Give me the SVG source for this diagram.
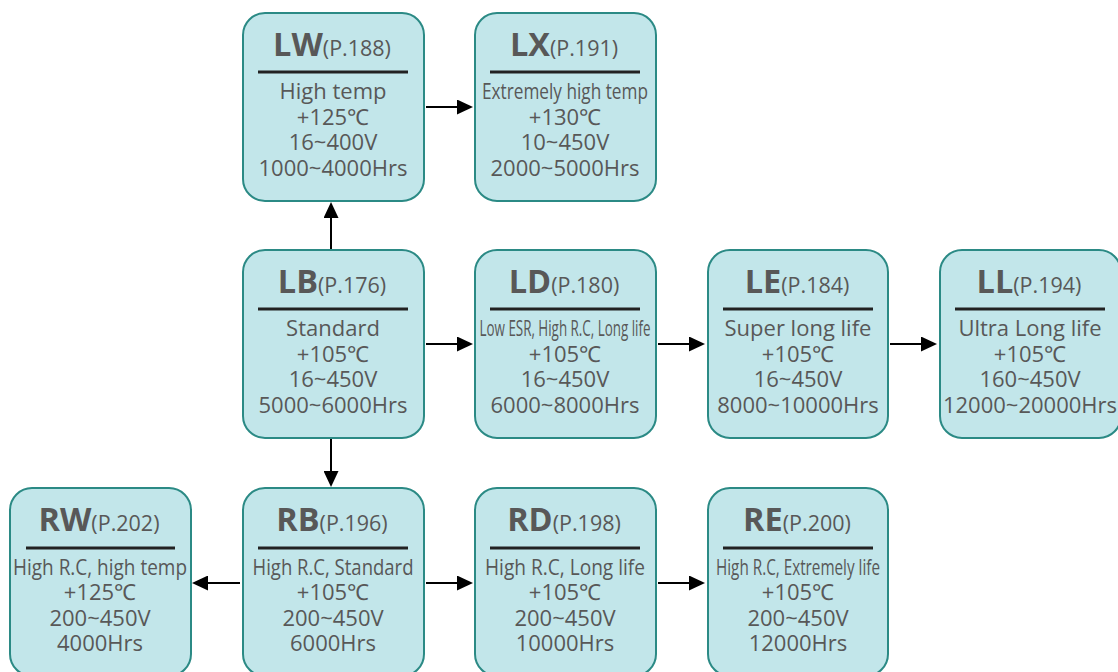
<svg xmlns="http://www.w3.org/2000/svg" width="1118" height="672" viewBox="0 0 1118 672">
<defs>
<style>
.box{fill:#c2e6ea;stroke:#2b8a85;stroke-width:2}
.t{font-family:"Open Sans","Liberation Sans",sans-serif;fill:#585858;text-anchor:middle}
.big{font-size:32.5px;font-weight:bold}
.sm{font-size:21.5px}
.ln{font-size:22px}
.cd{font-size:21px}
.ul{stroke:#222;stroke-width:3}
.cn{stroke:#000;stroke-width:2;fill:none;marker-end:url(#ah)}
</style>
<marker id="ah" markerWidth="16" markerHeight="15" refX="10" refY="7.5" orient="auto" markerUnits="userSpaceOnUse"><path d="M0,0 L16,7.5 L0,15 z" fill="#000"/></marker>
</defs>
<rect width="1118" height="672" fill="#fff"/>
<g id="connectors">
<line class="cn" x1="426" y1="107" x2="467" y2="107"/>
<line class="cn" x1="331" y1="250" x2="331" y2="208"/>
<line class="cn" x1="426" y1="344" x2="467" y2="344"/>
<line class="cn" x1="658" y1="344" x2="699" y2="344"/>
<line class="cn" x1="890" y1="344" x2="931" y2="344"/>
<line class="cn" x1="331" y1="439" x2="331" y2="481"/>
<line class="cn" x1="240" y1="583" x2="198" y2="583"/>
<line class="cn" x1="426" y1="583" x2="467" y2="583"/>
<line class="cn" x1="658" y1="583" x2="699" y2="583"/>
</g>
<g id="LW">
<rect class="box" x="243" y="13" width="181" height="188" rx="22"/>
<text class="t" x="332" y="56"><tspan class="big">LW</tspan><tspan class="sm">(P.188)</tspan></text>
<line class="ul" x1="258" y1="72" x2="408" y2="72"/>
<text class="t ln" x="333" y="99">High temp</text>
<text class="t ln" x="333" y="125">+125℃</text>
<text class="t ln" x="333" y="150">16~400V</text>
<text class="t ln" x="333" y="176">1000~4000Hrs</text>
</g>
<g id="LX">
<rect class="box" x="475" y="13" width="181" height="188" rx="22"/>
<text class="t" x="564" y="56"><tspan class="big">LX</tspan><tspan class="sm">(P.191)</tspan></text>
<line class="ul" x1="490" y1="72" x2="640" y2="72"/>
<text class="t cd" x="565" y="99" textLength="166" lengthAdjust="spacingAndGlyphs">Extremely high temp</text>
<text class="t ln" x="565" y="125">+130℃</text>
<text class="t ln" x="565" y="150">10~450V</text>
<text class="t ln" x="565" y="176">2000~5000Hrs</text>
</g>
<g id="LB">
<rect class="box" x="243" y="250" width="181" height="188" rx="22"/>
<text class="t" x="332" y="293"><tspan class="big">LB</tspan><tspan class="sm">(P.176)</tspan></text>
<line class="ul" x1="258" y1="309" x2="408" y2="309"/>
<text class="t ln" x="333" y="336">Standard</text>
<text class="t ln" x="333" y="362">+105℃</text>
<text class="t ln" x="333" y="387">16~450V</text>
<text class="t ln" x="333" y="413">5000~6000Hrs</text>
</g>
<g id="LD">
<rect class="box" x="475" y="250" width="181" height="188" rx="22"/>
<text class="t" x="564" y="293"><tspan class="big">LD</tspan><tspan class="sm">(P.180)</tspan></text>
<line class="ul" x1="490" y1="309" x2="640" y2="309"/>
<text class="t cd" x="565" y="336" textLength="171" lengthAdjust="spacingAndGlyphs">Low ESR, High R.C, Long life</text>
<text class="t ln" x="565" y="362">+105℃</text>
<text class="t ln" x="565" y="387">16~450V</text>
<text class="t ln" x="565" y="413">6000~8000Hrs</text>
</g>
<g id="LE">
<rect class="box" x="708" y="250" width="180" height="188" rx="22"/>
<text class="t" x="797" y="293"><tspan class="big">LE</tspan><tspan class="sm">(P.184)</tspan></text>
<line class="ul" x1="723" y1="309" x2="873" y2="309"/>
<text class="t ln" x="798" y="336">Super long life</text>
<text class="t ln" x="798" y="362">+105℃</text>
<text class="t ln" x="798" y="387">16~450V</text>
<text class="t ln" x="798" y="413">8000~10000Hrs</text>
</g>
<g id="LL">
<rect class="box" x="940" y="250" width="181" height="188" rx="22"/>
<text class="t" x="1029" y="293"><tspan class="big">LL</tspan><tspan class="sm">(P.194)</tspan></text>
<line class="ul" x1="955" y1="309" x2="1105" y2="309"/>
<text class="t ln" x="1030" y="336">Ultra Long life</text>
<text class="t ln" x="1030" y="362">+105℃</text>
<text class="t ln" x="1030" y="387">160~450V</text>
<text class="t ln" x="1030" y="413">12000~20000Hrs</text>
</g>
<g id="RW">
<rect class="box" x="10" y="488" width="181" height="188" rx="22"/>
<text class="t" x="99" y="531"><tspan class="big">RW</tspan><tspan class="sm">(P.202)</tspan></text>
<line class="ul" x1="26" y1="548" x2="175" y2="548"/>
<text class="t cd" x="100" y="575" textLength="174" lengthAdjust="spacingAndGlyphs">High R.C, high temp</text>
<text class="t ln" x="100" y="600">+125℃</text>
<text class="t ln" x="100" y="626">200~450V</text>
<text class="t ln" x="100" y="651">4000Hrs</text>
</g>
<g id="RB">
<rect class="box" x="243" y="488" width="181" height="188" rx="22"/>
<text class="t" x="332" y="531"><tspan class="big">RB</tspan><tspan class="sm">(P.196)</tspan></text>
<line class="ul" x1="258" y1="548" x2="408" y2="548"/>
<text class="t cd" x="333" y="575" textLength="161" lengthAdjust="spacingAndGlyphs">High R.C, Standard</text>
<text class="t ln" x="333" y="600">+105℃</text>
<text class="t ln" x="333" y="626">200~450V</text>
<text class="t ln" x="333" y="651">6000Hrs</text>
</g>
<g id="RD">
<rect class="box" x="475" y="488" width="181" height="188" rx="22"/>
<text class="t" x="564" y="531"><tspan class="big">RD</tspan><tspan class="sm">(P.198)</tspan></text>
<line class="ul" x1="490" y1="548" x2="640" y2="548"/>
<text class="t cd" x="565" y="575" textLength="160" lengthAdjust="spacingAndGlyphs">High R.C, Long life</text>
<text class="t ln" x="565" y="600">+105℃</text>
<text class="t ln" x="565" y="626">200~450V</text>
<text class="t ln" x="565" y="651">10000Hrs</text>
</g>
<g id="RE">
<rect class="box" x="708" y="488" width="180" height="188" rx="22"/>
<text class="t" x="797" y="531"><tspan class="big">RE</tspan><tspan class="sm">(P.200)</tspan></text>
<line class="ul" x1="723" y1="548" x2="873" y2="548"/>
<text class="t cd" x="798" y="575" textLength="164" lengthAdjust="spacingAndGlyphs">High R.C, Extremely life</text>
<text class="t ln" x="798" y="600">+105℃</text>
<text class="t ln" x="798" y="626">200~450V</text>
<text class="t ln" x="798" y="651">12000Hrs</text>
</g>
</svg>
